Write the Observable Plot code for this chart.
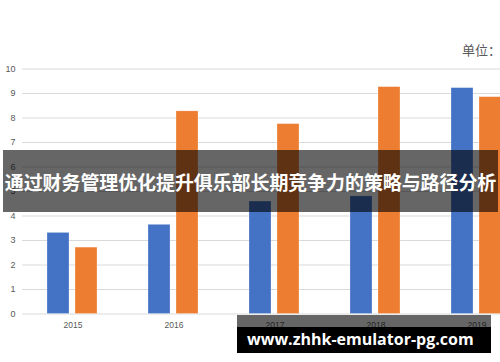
<!DOCTYPE html>
<html><head><meta charset="utf-8">
<script src="https://cdn.jsdelivr.net/npm/d3@7"></script>
<script src="https://cdn.jsdelivr.net/npm/@observablehq/plot@0.6"></script>
<style>
html,body{margin:0;padding:0;background:#fff;overflow:hidden;}
#wrap{position:relative;width:500px;height:362px;overflow:hidden;background:#fff;}
#wrap svg{max-width:none !important;display:block;}
.unit{position:absolute;left:462px;top:41px;font:13px "Noto Sans CJK SC",sans-serif;color:#595959;white-space:nowrap;line-height:18px;}
.banner{position:absolute;left:3px;top:150px;width:495px;height:62px;background:rgba(0,0,0,0.6);}
.banner span{position:absolute;left:-20px;right:-20px;top:21px;text-align:center;color:#fff;font:bold 19px "Noto Sans CJK SC",sans-serif;line-height:22px;white-space:nowrap;letter-spacing:-0.1px;}
.wm1{position:absolute;left:237px;top:315px;width:254px;height:12px;background:rgba(0,0,0,0.6);}
.wm2{position:absolute;left:237px;top:327px;width:254px;height:26px;background:#000;}
.wm2 span{position:absolute;left:10px;top:1px;color:#fff;font:bold 16px "Open Sans","DejaVu Sans",sans-serif;line-height:22px;white-space:nowrap;}
</style></head><body>
<div id="wrap"></div>
<script>
const years = ["2015", "2016", "2017", "2018", "2019"];
const seriesNames = ["系列1", "系列2"];
const seriesA = [3.31, 3.64, 4.59, 4.80, 9.22];
const seriesB = [2.71, 8.27, 7.75, 9.26, 8.85];
const yTicks = [0, 1, 2, 3, 4, 5, 6, 7, 8, 9, 10];
const unitLabel = "单位：";
const bannerTitle = "通过财务管理优化提升俱乐部长期竞争力的策略与路径分析";
const watermark = "www.zhhk-emulator-pg.com";

const table = years.flatMap((yr, i) => [
  {year: yr, series: seriesNames[0], value: seriesA[i]},
  {year: yr, series: seriesNames[1], value: seriesB[i]}
]);

const chart = Plot.plot({
  width: 530,
  height: 362,
  marginLeft: 20,
  marginRight: 2,
  marginTop: 68.5,
  marginBottom: 48.5,
  style: {fontFamily: "'Liberation Sans', 'Open Sans', sans-serif", background: "transparent"},
  fx: {domain: years, padding: 0, label: null},
  x: {domain: seriesNames, paddingInner: 0.2105, paddingOuter: 0.886, axis: null},
  y: {domain: [0, 10], axis: null},
  color: {domain: seriesNames, range: ["#4472C4", "#ED7D31"]},
  marks: [
    Plot.gridY(yTicks, {stroke: "#D9D9D9", strokeOpacity: 1, strokeWidth: 1}),
    Plot.barY(table, {fx: "year", x: "series", y: "value", fill: "series", stroke: "#fff", strokeWidth: 0.5, strokeOpacity: 0.5}),
    Plot.axisY(yTicks, {anchor: "left", tickSize: 0, tickPadding: 7, fontSize: 9, color: "#595959", label: null}),
    Plot.axisFx({anchor: "bottom", tickSize: 0, tickPadding: 7.5, fontSize: 8.5, color: "#595959", label: null})
  ]
});

const wrap = document.getElementById("wrap");
wrap.appendChild(chart);

const unit = document.createElement("div");
unit.className = "unit"; unit.textContent = unitLabel; wrap.appendChild(unit);

const banner = document.createElement("div");
banner.className = "banner";
const bs = document.createElement("span"); bs.textContent = bannerTitle; banner.appendChild(bs);
wrap.appendChild(banner);

const w1 = document.createElement("div"); w1.className = "wm1"; wrap.appendChild(w1);
const w2 = document.createElement("div"); w2.className = "wm2";
const ws = document.createElement("span"); ws.textContent = watermark; w2.appendChild(ws);
wrap.appendChild(w2);
</script>
</body></html>
